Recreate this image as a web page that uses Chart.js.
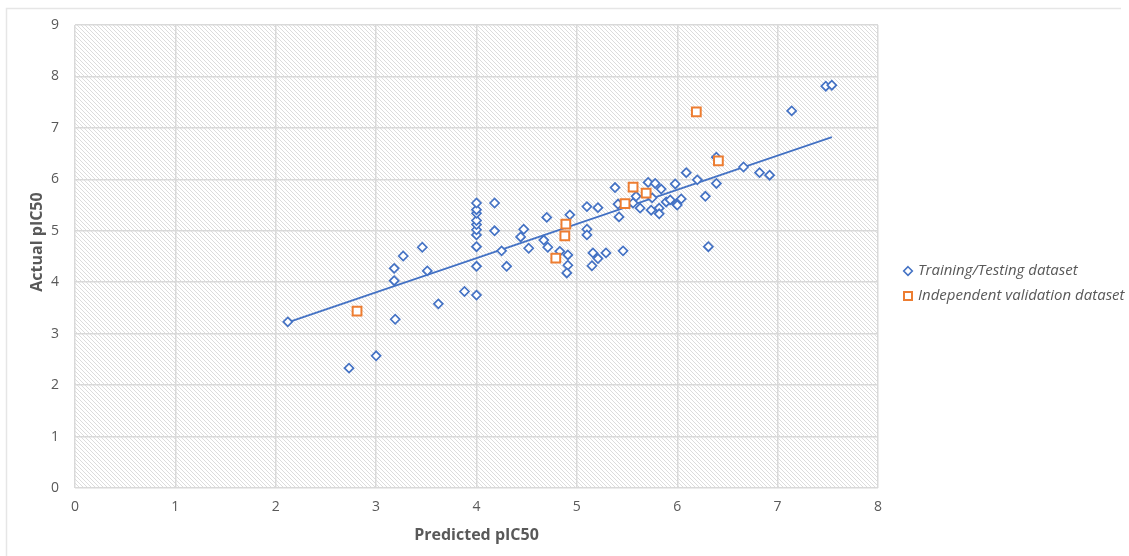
<!DOCTYPE html>
<html>
<head>
<meta charset="utf-8">
<script src="https://cdn.jsdelivr.net/npm/chart.js@4/dist/chart.umd.min.js"></script>
<style>
  html, body { margin: 0; padding: 0; background: #ffffff; }
  #wrap { width: 1129px; height: 556px; position: relative; }
</style>
</head>
<body>
<div id="wrap"><canvas id="c" width="1129" height="556"></canvas></div>
<script>
// Training/Testing dataset: predicted vs. actual pIC50
const trainX = [2.12, 2.73, 3.00, 3.19, 3.18, 3.18, 3.27, 3.46, 3.51, 3.62, 3.88,
  4.00, 4.00, 4.00, 4.00, 4.00, 4.00, 4.00, 4.00, 4.00, 4.00,
  4.18, 4.18, 4.25, 4.30, 4.44, 4.47, 4.52, 4.67, 4.70, 4.71, 4.83,
  4.93, 4.91, 4.91, 4.90, 5.10, 5.21, 5.10, 5.10, 5.16, 5.21, 5.15, 5.29,
  5.38, 5.46, 5.42, 5.41, 5.56, 5.59, 5.63, 5.71, 5.78, 5.84, 5.75, 5.74,
  5.82, 5.82, 5.89, 5.93, 5.99, 6.04, 6.00, 5.98, 6.09, 6.20, 6.39, 6.28,
  6.31, 6.39, 6.66, 6.82, 6.92, 7.14, 7.48, 7.54];
const trainY = [3.23, 2.33, 2.57, 3.28, 4.03, 4.27, 4.51, 4.68, 4.22, 3.58, 3.82,
  3.75, 4.31, 4.69, 4.92, 5.02, 5.12, 5.20, 5.34, 5.41, 5.54,
  5.54, 5.00, 4.61, 4.31, 4.88, 5.03, 4.66, 4.82, 5.26, 4.68, 4.60,
  5.31, 4.53, 4.33, 4.18, 5.47, 5.45, 5.03, 4.92, 4.57, 4.46, 4.32, 4.57,
  5.84, 4.61, 5.27, 5.52, 5.54, 5.67, 5.44, 5.94, 5.92, 5.81, 5.64, 5.40,
  5.44, 5.33, 5.56, 5.60, 5.52, 5.62, 5.50, 5.91, 6.13, 5.99, 5.92, 5.67,
  4.69, 6.43, 6.24, 6.13, 6.08, 7.33, 7.81, 7.83];

// Independent validation dataset
const validX = [2.81, 4.79, 4.88, 4.89, 5.48, 5.56, 5.69, 6.19, 6.41];
const validY = [3.44, 4.47, 4.90, 5.13, 5.53, 5.85, 5.73, 7.31, 6.36];

// Linear trendline end points
const trendX = [2.12, 7.54];
const trendY = [3.22, 6.82];

// Axis ticks
const xTicks = [0, 1, 2, 3, 4, 5, 6, 7, 8];
const yTicks = [0, 1, 2, 3, 4, 5, 6, 7, 8, 9];

const legendLabels = ['Training/Testing dataset', 'Independent validation dataset'];
const xTitle = 'Predicted pIC50';
const yTitle = 'Actual pIC50';

const zip = (xs, ys) => xs.map((x, i) => ({ x: x, y: ys[i] }));

const BLUE = '#4472C4';
const ORANGE = '#ED7D31';
const TEXT = '#595959';
const GRID = '#d9d9d9';
const FONT = "'Open Sans', 'Noto Sans', sans-serif";

// Diagonal hatch used as the plot-area fill
function makeHatch() {
  const t = document.createElement('canvas');
  t.width = 4; t.height = 4;
  const g = t.getContext('2d');
  g.fillStyle = '#ffffff';
  g.fillRect(0, 0, 4, 4);
  g.strokeStyle = '#dcdcdc';
  g.lineWidth = 1;
  g.beginPath();
  g.moveTo(-1, -1); g.lineTo(5, 5);
  g.moveTo(-1, 3); g.lineTo(1, 5);
  g.moveTo(3, -1); g.lineTo(5, 1);
  g.stroke();
  return t;
}

const plotBackground = {
  id: 'plotBackground',
  beforeDraw(chart) {
    const { ctx, chartArea: a } = chart;
    ctx.save();
    // frame around the whole figure
    ctx.strokeStyle = '#e6e6e6';
    ctx.lineWidth = 1.5;
    ctx.beginPath();
    ctx.moveTo(6.5, 560); ctx.lineTo(6.5, 8.5); ctx.lineTo(1121, 8.5);
    ctx.stroke();
    ctx.fillStyle = ctx.createPattern(makeHatch(), 'repeat');
    ctx.fillRect(a.left, a.top, a.right - a.left, a.bottom - a.top);
    ctx.restore();
  }
};

// Vertical axis title, placed a little above the plot-area centre
const yAxisTitle = {
  id: 'yAxisTitle',
  afterDraw(chart) {
    const { ctx } = chart;
    ctx.save();
    ctx.translate(37, 242);
    ctx.rotate(-Math.PI / 2);
    ctx.font = "bold 16px " + FONT;
    ctx.fillStyle = TEXT;
    ctx.textAlign = 'center';
    ctx.textBaseline = 'middle';
    ctx.fillText(yTitle, 0, 0);
    ctx.restore();
  }
};

const sideLegend = {
  id: 'sideLegend',
  afterDraw(chart) {
    const { ctx } = chart;
    const x0 = 908, rows = [271, 296];
    ctx.save();
    ctx.font = "italic 15px " + FONT;
    ctx.textBaseline = 'middle';
    // diamond marker
    ctx.strokeStyle = BLUE; ctx.lineWidth = 1.6;
    ctx.fillStyle = '#fff';
    ctx.beginPath();
    ctx.moveTo(x0, rows[0] - 4.3); ctx.lineTo(x0 + 4.3, rows[0]);
    ctx.lineTo(x0, rows[0] + 4.3); ctx.lineTo(x0 - 4.3, rows[0]); ctx.closePath();
    ctx.fill(); ctx.stroke();
    // square marker
    ctx.strokeStyle = ORANGE; ctx.lineWidth = 2;
    ctx.fillRect(x0 - 4, rows[1] - 4, 8, 8);
    ctx.strokeRect(x0 - 4, rows[1] - 4, 8, 8);
    ctx.fillStyle = TEXT;
    ctx.fillText(legendLabels[0], x0 + 10, rows[0]);
    ctx.fillText(legendLabels[1], x0 + 10, rows[1]);
    ctx.restore();
  }
};

new Chart(document.getElementById('c'), {
  type: 'scatter',
  data: {
    datasets: [
      {
        label: 'Trendline',
        data: zip(trendX, trendY),
        showLine: true,
        borderColor: BLUE,
        borderWidth: 1.7,
        pointRadius: 0,
        fill: false,
        order: 3
      },
      {
        label: legendLabels[0],
        data: zip(trainX, trainY),
        pointStyle: 'rectRot',
        pointRadius: 4.5,
        pointBorderWidth: 1.7,
        pointBorderColor: BLUE,
        pointBackgroundColor: '#ffffff',
        order: 2
      },
      {
        label: legendLabels[1],
        data: zip(validX, validY),
        pointStyle: 'rect',
        pointRadius: 6.2,
        pointBorderWidth: 2,
        pointBorderColor: ORANGE,
        pointBackgroundColor: '#ffffff',
        order: 1
      }
    ]
  },
  options: {
    responsive: false,
    animation: false,
    layout: { padding: { left: 0, right: 251, top: 25, bottom: 0 } },
    plugins: {
      legend: { display: false },
      tooltip: { enabled: false }
    },
    scales: {
      x: {
        type: 'linear',
        min: xTicks[0],
        max: xTicks[xTicks.length - 1],
        afterFit(s) { s.height = 68; },
        afterBuildTicks(s) { s.ticks = xTicks.map(v => ({ value: v })); },
        border: { display: false },
        grid: { color: GRID, lineWidth: 1.5, drawTicks: false },
        ticks: { color: TEXT, font: { family: FONT, size: 14 }, padding: 11 },
        title: {
          display: true,
          text: xTitle,
          color: TEXT,
          font: { family: FONT, size: 16, weight: 'bold' },
          padding: { top: 0, bottom: 11 }
        }
      },
      y: {
        type: 'linear',
        min: yTicks[0],
        max: yTicks[yTicks.length - 1],
        afterFit(s) { s.width = 75; },
        afterBuildTicks(s) { s.ticks = yTicks.map(v => ({ value: v })); },
        border: { display: false },
        grid: { color: GRID, lineWidth: 1.5, drawTicks: false },
        ticks: { color: TEXT, font: { family: FONT, size: 14 }, padding: 16 },
        title: { display: false }
      }
    }
  },
  plugins: [plotBackground, yAxisTitle, sideLegend]
});
</script>
</body>
</html>
